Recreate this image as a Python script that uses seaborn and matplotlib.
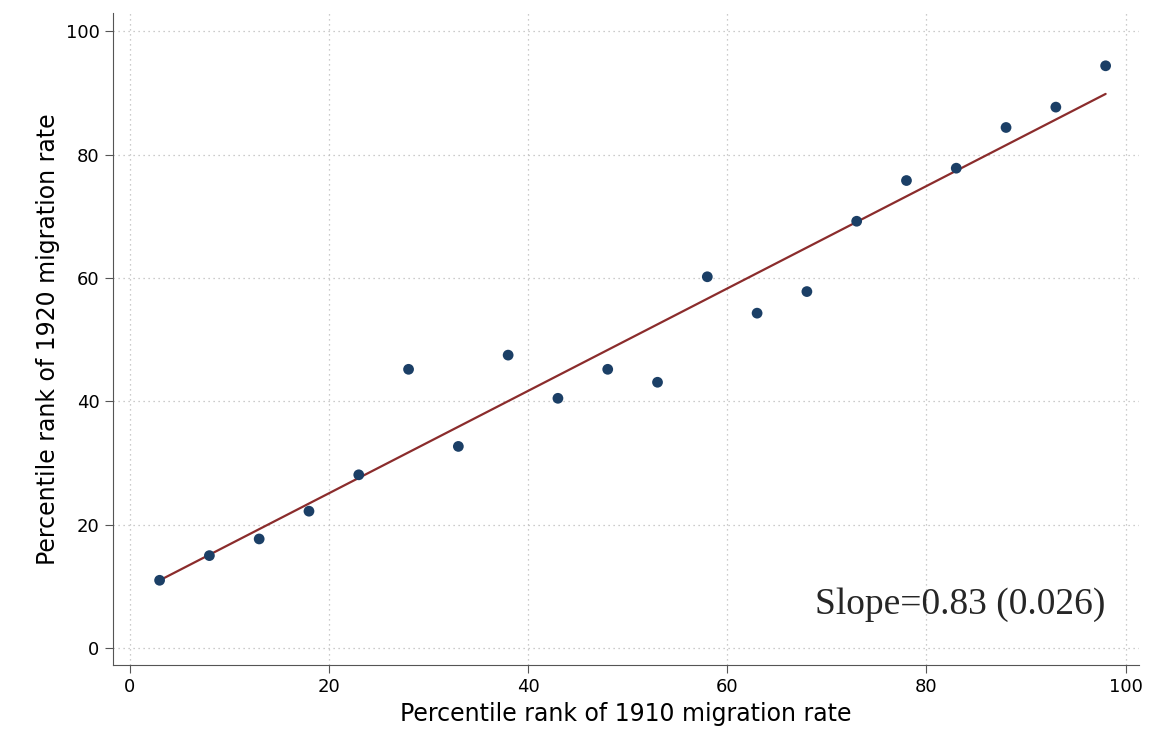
import matplotlib
matplotlib.use("Agg")
import matplotlib.pyplot as plt
import seaborn as sns
import pandas as pd

# binned scatter: percentile rank 1910 vs 1920
rank_1910 = [3, 8, 13, 18, 23, 28, 33, 38, 43, 48, 53, 58, 63, 68, 73, 78, 83, 88, 93, 98]
rank_1920 = [11.0, 15.0, 17.7, 22.2, 28.1, 45.2, 32.7, 47.5, 40.5, 45.2, 43.1, 60.2,
             54.3, 57.8, 69.2, 75.8, 77.8, 84.4, 87.7, 94.4]
slope = 0.83
intercept = 8.5
slope_label = "Slope=0.83 (0.026)"

df = pd.DataFrame({"x": rank_1910, "y": rank_1920})
fit = pd.DataFrame({"x": [rank_1910[0], rank_1910[-1]]})
fit["y"] = intercept + slope * fit["x"]

sns.set_style("white")
plt.rcParams["font.family"] = ["DejaVu Sans"]
fig, ax = plt.subplots(figsize=(11.51, 7.49), dpi=100)
fig.subplots_adjust(left=0.098, right=0.990, top=0.983, bottom=0.112)

sns.lineplot(data=fit, x="x", y="y", color="#8b2c2c", linewidth=1.6, ax=ax)
sns.scatterplot(data=df, x="x", y="y", color="#1b3f66", s=60, edgecolor="none", ax=ax, zorder=3)

ax.set_xlim(-1.7, 101.4)
ax.set_ylim(-2.75, 103)
ax.set_xticks(range(0, 101, 20))
ax.set_yticks(range(0, 101, 20))
ax.grid(True, linestyle=(0, (1, 3)), color="#bbbbbb", linewidth=0.9)
sns.despine(ax=ax)
for s in ["left", "bottom"]:
    ax.spines[s].set_color("#555555")
ax.tick_params(axis="both", labelsize=13, length=6, color="#555555", labelcolor="black",
               left=True, bottom=True)
ax.set_xlabel("Percentile rank of 1910 migration rate", fontsize=17, color="black")
ax.set_ylabel("Percentile rank of 1920 migration rate", fontsize=17, color="black")
ax.text(98, 7, slope_label, ha="right", va="center", fontsize=27,
        family=["Liberation Serif", "DejaVu Serif"])

fig.savefig("out.png")
